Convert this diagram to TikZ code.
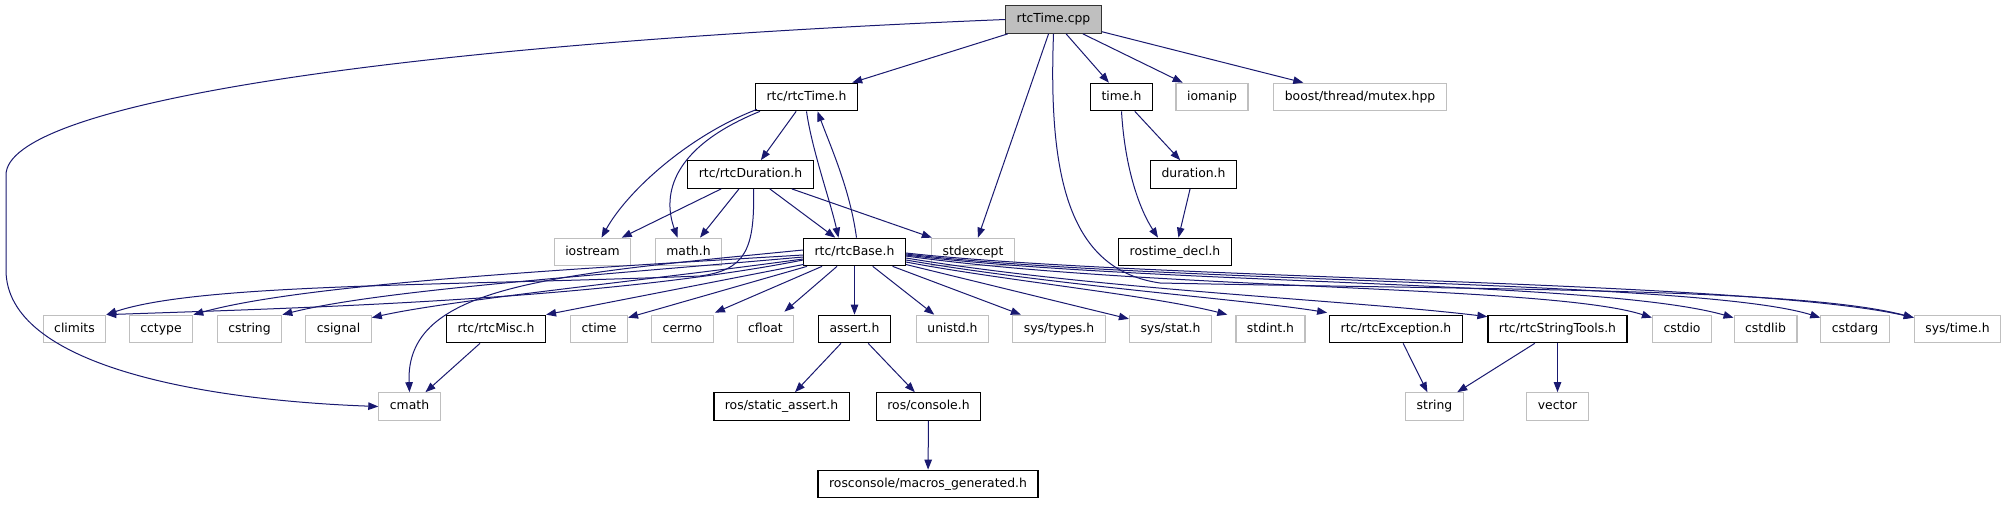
\documentclass[tikz,border=0pt]{standalone}
\usepackage{fontspec}
\setmainfont{DejaVu Sans}
\usepackage{tikz}
\usetikzlibrary{calc,arrows.meta}
\definecolor{edgeblue}{HTML}{191970}
\definecolor{boxgray}{HTML}{BFBFBF}

\begin{document}
\begin{tikzpicture}[x=1pt, y=-1pt,
		file/.style={draw=black, line width=1.2pt, inner xsep=11pt, inner ysep=0pt, minimum height=27.5pt, text height=9.5pt, text depth=2.8pt, font=\fontsize{12.4pt}{14pt}\selectfont},
		sysfile/.style={file, draw=boxgray},
		mainfile/.style={file, draw=black!80, fill=boxgray},
		dep/.style={draw=edgeblue, line width=1pt, -{Triangle[length=10pt,width=7.5pt]}}]
			%%%%% START %%%%%
			
			\fill[white] (0,0) rectangle (2007,504);
			
			\node[mainfile] (cpp) at (1053.5,19.5) {rtcTime.cpp};
			
			\node[file] (rtcTimeH) at (806.5,97) {rtc/rtcTime.h};
			\node[file] (timeH) at (1121.5,97) {time.h};
			\node[sysfile] (iomanip) at (1212,97) {iomanip};
			\node[sysfile] (mutex) at (1360,97) {boost/thread/mutex.hpp};
			
			\node[file] (rtcDurationH) at (750.5,174.5) {rtc/rtcDuration.h};
			\node[file] (durationH) at (1193.5,174.5) {duration.h};
			
			\node[sysfile] (iostream) at (592.5,252) {iostream};
			\node[sysfile] (mathH) at (688.5,252) {math.h};
			\node[file] (rtcBaseH) at (854.5,252) {rtc/rtcBase.h};
			\node[sysfile] (stdexcept) at (973,252) {stdexcept};
			\node[file] (rostimeDecl) at (1175,252) {rostime\_decl.h};
			
			\node[sysfile] (climits) at (74.5,329) {climits};
			\node[sysfile] (cctype) at (161,329) {cctype};
			\node[sysfile] (cstring) at (249.5,329) {cstring};
			\node[sysfile] (csignal) at (338.5,329) {csignal};
			\node[file] (rtcMiscH) at (496,329) {rtc/rtcMisc.h};
			\node[sysfile] (ctime) at (599,329) {ctime};
			\node[sysfile] (cerrno) at (682.5,329) {cerrno};
			\node[sysfile] (cfloat) at (765.5,329) {cfloat};
			\node[file] (assertH) at (854.5,329) {assert.h};
			\node[sysfile] (unistdH) at (952.5,329) {unistd.h};
			\node[sysfile] (systypesH) at (1059,329) {sys/types.h};
			\node[sysfile] (sysstatH) at (1170.5,329) {sys/stat.h};
			\node[sysfile] (stdintH) at (1270.5,329) {stdint.h};
			\node[file] (rtcExceptionH) at (1396,329) {rtc/rtcException.h};
			\node[file] (rtcStringToolsH) at (1557.5,329) {rtc/rtcStringTools.h};
			\node[sysfile] (cstdio) at (1682,329) {cstdio};
			\node[sysfile] (cstdlib) at (1765.5,329) {cstdlib};
			\node[sysfile] (cstdarg) at (1855,329) {cstdarg};
			\node[sysfile] (systimeH) at (1957.5,329) {sys/time.h};
			
			\node[sysfile] (cmath) at (409.5,406.5) {cmath};
			\node[file] (staticAssertH) at (781.5,406.5) {ros/static\_assert.h};
			\node[file] (consoleH) at (928.5,406.5) {ros/console.h};
			\node[sysfile] (string) at (1434.5,406.5) {string};
			\node[sysfile] (vector) at (1557.5,406.5) {vector};
			
			\node[file] (macrosH) at (928,484) {rosconsole/macros\_generated.h};
			
			% rtcTime.cpp
			\draw[dep] (cpp) -- (rtcTimeH);
			\draw[dep] (cpp.west) .. controls (380,45) and (6,105) .. (6,175) -- (6,270) .. controls (6,365) and (200,400) .. (cmath.west);
			\draw[dep] (cpp) -- (stdexcept);
			\draw[dep] (cpp.south) .. controls (1048,180) and (1070,270) .. (1160,283) .. controls (1500,290) and (1800,288) .. ($(systimeH.north west)+(0,3)$);
			\draw[dep] (cpp) -- (timeH);
			\draw[dep] (cpp) -- (iomanip);
			\draw[dep] (cpp) -- (mutex);
			
			% rtc/rtcTime.h
			\draw[dep] (rtcTimeH) -- (rtcDurationH);
			\draw[dep] ($(rtcTimeH.south west)+(2,-2)$) .. controls (690,135) and (628,190) .. ($(iostream.north)+(9,0)$);
			\draw[dep] ($(rtcTimeH.south west)+(5,0)$) .. controls (665,150) and (664,200) .. ($(mathH.north)+(-11,0)$);
			\draw[dep] (rtcTimeH.south) .. controls (812,150) and (830,200) .. ($(rtcBaseH.north)+(-16,0)$);
			\draw[dep] ($(rtcBaseH.north)+(2,0)$) .. controls (850,190) and (832,150) .. ($(rtcTimeH.south)+(11,0)$);
			
			% rtc/rtcDuration.h
			\draw[dep] (rtcDurationH) -- (iostream);
			\draw[dep] (rtcDurationH) -- (mathH);
			\draw[dep] (rtcDurationH) -- (rtcBaseH);
			\draw[dep] (rtcDurationH) -- (stdexcept);
			\draw[dep] ($(rtcDurationH.south)+(3,0)$) .. controls (755,250) and (745,270) .. (700,276) .. controls (450,286) and (200,283) .. (climits.north east);
			
			% rtc/rtcBase.h, left side
			\draw[dep] ($(rtcBaseH.west)+(0,8)$) .. controls (600,300) and (300,308) .. (climits.north east);
			\draw[dep] ($(rtcBaseH.west)+(0,3)$) .. controls (550,270) and (300,285) .. (cctype.north east);
			\draw[dep] ($(rtcBaseH.west)+(0,5)$) .. controls (600,275) and (380,290) .. (cstring.north east);
			\draw[dep] ($(rtcBaseH.west)+(0,7)$) .. controls (650,280) and (450,300) .. ($(csignal.north east)+(0,3)$);
			\draw[dep] ($(rtcBaseH.west)+(0,-2)$) .. controls (550,275) and (405,285) .. (cmath.north);
			\draw[dep] ($(rtcBaseH.south west)+(1,-2)$) -- (rtcMiscH.north east);
			\draw[dep] ($(rtcBaseH.south west)+(4,0)$) -- ($(ctime.north east)+(0,3)$);
			\draw[dep] ($(rtcBaseH.south west)+(19,0)$) -- ($(cerrno.north east)+(1,-2)$);
			\draw[dep] ($(rtcBaseH.south west)+(34,0)$) -- ($(cfloat.north east)+(-10,-3)$);
			\draw[dep] (rtcBaseH) -- (assertH);
			\draw[dep] (rtcBaseH) -- (unistdH);
			\draw[dep] (rtcBaseH) -- (systypesH);
			\draw[dep] (rtcBaseH) -- (sysstatH);
			
			% rtc/rtcBase.h, right side
			\draw[dep] ($(rtcBaseH.east)+(0,10)$) .. controls (1000,280) and (1150,295) .. ($(stdintH.north west)+(-8,0)$);
			\draw[dep] ($(rtcBaseH.east)+(0,8)$) .. controls (1050,285) and (1250,300) .. ($(rtcExceptionH.north west)+(-2,-2)$);
			\draw[dep] ($(rtcBaseH.east)+(0,6)$) .. controls (1100,290) and (1350,300) .. ($(rtcStringToolsH.north west)+(0,2)$);
			\draw[dep] ($(rtcBaseH.east)+(0,4)$) .. controls (1150,290) and (1550,285) .. ($(cstdio.north west)+(0,3)$);
			\draw[dep] ($(rtcBaseH.east)+(0,3)$) .. controls (1150,285) and (1600,280) .. ($(cstdlib.north west)+(0,3)$);
			\draw[dep] ($(rtcBaseH.east)+(0,2)$) .. controls (1150,283) and (1700,280) .. ($(cstdarg.north west)+(0,3)$);
			\draw[dep] ($(rtcBaseH.east)+(0,1)$) .. controls (1150,280) and (1750,280) .. ($(systimeH.north west)+(0,3)$);
			
			\draw[dep] (rtcMiscH) -- (cmath);
			
			\draw[dep] (timeH) -- (durationH);
			\draw[dep] (timeH.south) .. controls (1125,170) and (1140,210) .. ($(rostimeDecl.north)+(-17,0)$);
			\draw[dep] (durationH) -- (rostimeDecl);
			
			\draw[dep] (assertH) -- (staticAssertH);
			\draw[dep] (assertH) -- (consoleH);
			\draw[dep] (consoleH) -- (macrosH);
			
			\draw[dep] (rtcExceptionH) -- (string);
			\draw[dep] (rtcStringToolsH) -- (string);
			\draw[dep] (rtcStringToolsH) -- (vector);
			
			%%%%% END %%%%%
		\end{tikzpicture}
\end{document}
